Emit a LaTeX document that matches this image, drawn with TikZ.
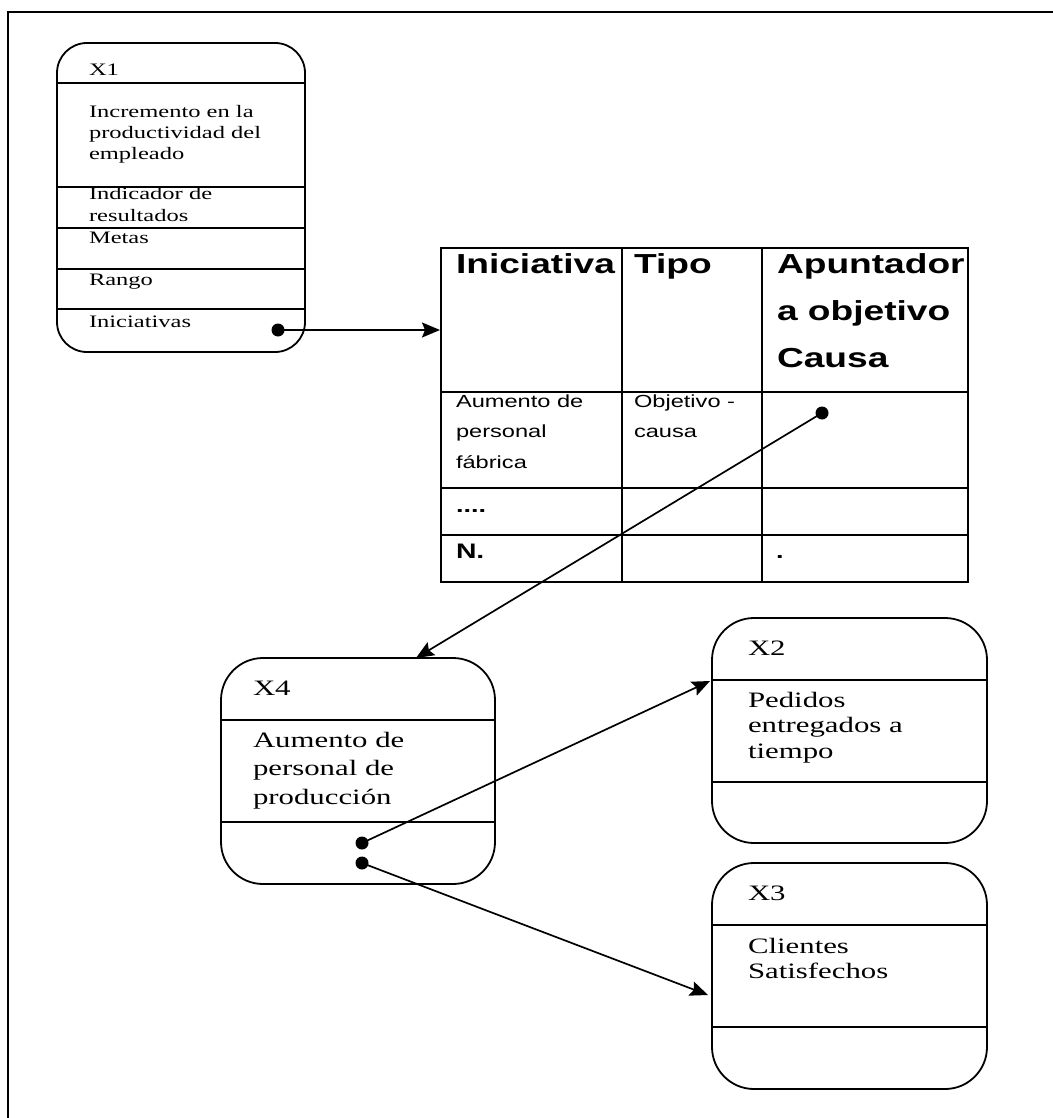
\documentclass[tikz,border=0pt]{standalone}
\usepackage{fontspec}
\setmainfont{Liberation Serif}
% wide-set faces used in the entity boxes and in the table
\newfontfamily\boxfont[FakeStretch=1.4]{Liberation Serif}
\newfontfamily\tabfont[FakeStretch=1.35]{Liberation Sans}
\usetikzlibrary{arrows.meta}

\newcommand{\lines}[3]{\parbox[t]{260pt}{\raggedright\fontsize{#1}{#2}\selectfont #3}}

\begin{document}
\begin{tikzpicture}[x=1pt,y=-1pt,
  frameline/.style={line width=2pt},
  entity/.style={draw, line width=1.8pt, rounded corners=42pt, inner sep=0pt, outer sep=0pt},
  divider/.style={line width=1.6pt},
  grid/.style={line width=2.2pt},
  tbl/.style={draw, line width=2.2pt, inner sep=0pt, outer sep=0pt, minimum width=527pt, minimum height=334pt},
  txt/.style={anchor=base west, inner sep=0pt, outer sep=0pt},
  bx/.style={txt, font=\boxfont\fontsize{22}{26}\selectfont},
  sx/.style={txt, font=\boxfont\fontsize{17.5}{21}\selectfont},
  hd/.style={txt, font=\tabfont\bfseries\fontsize{27.5}{47}\selectfont},
  cell/.style={txt, font=\tabfont\fontsize{17.5}{30.5}\selectfont},
  dot/.style={circle, fill, inner sep=0pt, minimum size=13pt},
  arr/.style={line width=1.7pt, -{Stealth[length=18pt,width=15pt,inset=3pt]}},
]
\useasboundingbox (0,0) rectangle (1052,1118);

% page frame, open on the right and at the bottom
\draw[frameline] (8,1130) -- (8,12) -- (1060,12);

% ---------- entity X1 ----------
\node[entity, rounded corners=30pt, minimum width=248pt, minimum height=309pt] (x1) at (181,197.5) {};
\foreach \yy in {83,187,228,269,309} \draw[divider] (57,\yy) -- (305,\yy);
\node[sx] (x1t) at (89,76) {X1};
\node[sx] (x1a) at (89,118) {\lines{17.5}{21}{Incremento en la\\productividad del\\empleado}};
\node[sx] (x1b) at (89,200) {\lines{17.5}{21}{Indicador de\\resultados}};
\node[sx] (x1c) at (89,243) {Metas};
\node[sx] (x1d) at (89,285) {Rango};
\node[sx] (x1e) at (89,327) {Iniciativas};
\node[dot] (d1) at (278,330) {};

% ---------- initiatives table ----------
\node[tbl] (tb) at (704.5,415) {};
\draw[grid] (622,248) -- (622,582);
\draw[grid] (762,248) -- (762,582);
\draw[grid] (441,392) -- (968,392);
\draw[grid] (441,488) -- (968,488);
\draw[grid] (441,535) -- (968,535);
\node[hd] (h1) at (456,273) {Iniciativa};
\node[hd] (h2) at (634,273) {Tipo};
\node[hd] (h3) at (777,273) {\lines{27.5}{47}{Apuntador\\a objetivo\\Causa}};
\node[cell] (c1) at (456,407) {\lines{17.5}{30.5}{Aumento de\\personal\\fábrica}};
\node[cell] (c2) at (634,407) {\lines{17.5}{30.5}{Objetivo -\\causa}};
\node[cell, font=\tabfont\bfseries\fontsize{20}{24}\selectfont] (c3) at (456,512) {....};
\node[cell, font=\tabfont\bfseries\fontsize{21}{24}\selectfont] (c4) at (456,558) {N.};
\node[cell, font=\tabfont\bfseries\fontsize{20}{24}\selectfont] (c5) at (776,558) {.};
\node[dot] (d2) at (822,413) {};

% ---------- entity X4 ----------
\node[entity, minimum width=274pt, minimum height=226pt] (x4) at (358,771) {};
\draw[divider] (221,720) -- (495,720);
\draw[divider] (221,822) -- (495,822);
\node[bx] (x4t) at (253,695) {X4};
\node[bx] (x4a) at (253,747) {\lines{22}{28.5}{Aumento de\\personal de\\producción}};
\node[dot] (d3) at (362,843) {};
\node[dot] (d4) at (362,863) {};

% ---------- entity X2 ----------
\node[entity, minimum width=275pt, minimum height=225pt] (x2) at (849.5,730.5) {};
\draw[divider] (712,680) -- (987,680);
\draw[divider] (712,782) -- (987,782);
\node[bx] (x2t) at (748,655) {X2};
\node[bx] (x2a) at (748,707) {\lines{22}{25.5}{Pedidos\\entregados a\\tiempo}};

% ---------- entity X3 ----------
\node[entity, minimum width=275pt, minimum height=226pt] (x3) at (849.5,976) {};
\draw[divider] (712,925) -- (987,925);
\draw[divider] (712,1027) -- (987,1027);
\node[bx] (x3t) at (748,900) {X3};
\node[bx] (x3a) at (748,953) {\lines{22}{25.5}{Clientes\\Satisfechos}};

% ---------- connectors ----------
\coordinate (tbin) at (440,330);
\coordinate (x4in) at (416,658);
\coordinate (x2in) at (710,681);
\coordinate (x3in) at (708,995);
\draw[arr] (d1.center) -- (tbin);
\draw[arr] (d2.center) -- (x4in);
\draw[arr] (d3.center) -- (x2in);
\draw[arr] (d4.center) -- (x3in);
\end{tikzpicture}
\end{document}
